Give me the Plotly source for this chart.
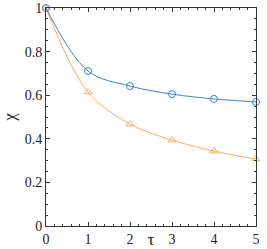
import plotly.graph_objects as go

tau = [0, 1, 2, 3, 4, 5]
chi_blue = [1.0, 0.711, 0.642, 0.605, 0.583, 0.569]
chi_orange = [1.0, 0.615, 0.468, 0.394, 0.344, 0.307]

blue = "#3a87c8"
orange = "#ffab5e"
serif = "Liberation Serif"

fig = go.Figure()
fig.add_trace(go.Scatter(x=tau, y=chi_orange, mode="lines+markers", line=dict(color=orange, width=1, shape="spline", smoothing=1.0),
                         marker=dict(symbol="triangle-up-open", size=7, color=orange, line=dict(width=1)), cliponaxis=False))
fig.add_trace(go.Scatter(x=tau, y=chi_blue, mode="lines+markers", line=dict(color=blue, width=1, shape="spline", smoothing=1.0),
                         marker=dict(symbol="circle-open", size=7, color=blue, line=dict(width=1)), cliponaxis=False))

font = dict(family=serif, size=14, color="#222")
axis_common = dict(showgrid=False, zeroline=False, showline=True, linecolor="#333", linewidth=1, mirror="ticks",
                   ticks="inside", ticklen=4, tickcolor="#333", tickfont=font)
fig.update_xaxes(range=[0, 5], dtick=1, tick0=0, title=dict(text="τ", font=dict(family=serif, size=17, color="#222"), standoff=0),
                 minor=dict(ticks="inside", ticklen=2, dtick=0.2, tickcolor="#333"), **axis_common)
fig.update_yaxes(range=[0, 1], dtick=0.2, tick0=0, tickformat="~g", title=dict(text="χ", font=dict(family=serif, size=17, color="#222"), standoff=4),
                 minor=dict(ticks="inside", ticklen=2, dtick=0.05, tickcolor="#333"), **axis_common)
fig.update_layout(width=267, height=249, margin=dict(l=46, r=11, t=8, b=23, autoexpand=False), showlegend=False,
                  plot_bgcolor="white", paper_bgcolor="white", font=dict(family=serif))
fig.write_html("out.html", config={"displayModeBar": False}, post_script="document.body.style.margin='0';")
